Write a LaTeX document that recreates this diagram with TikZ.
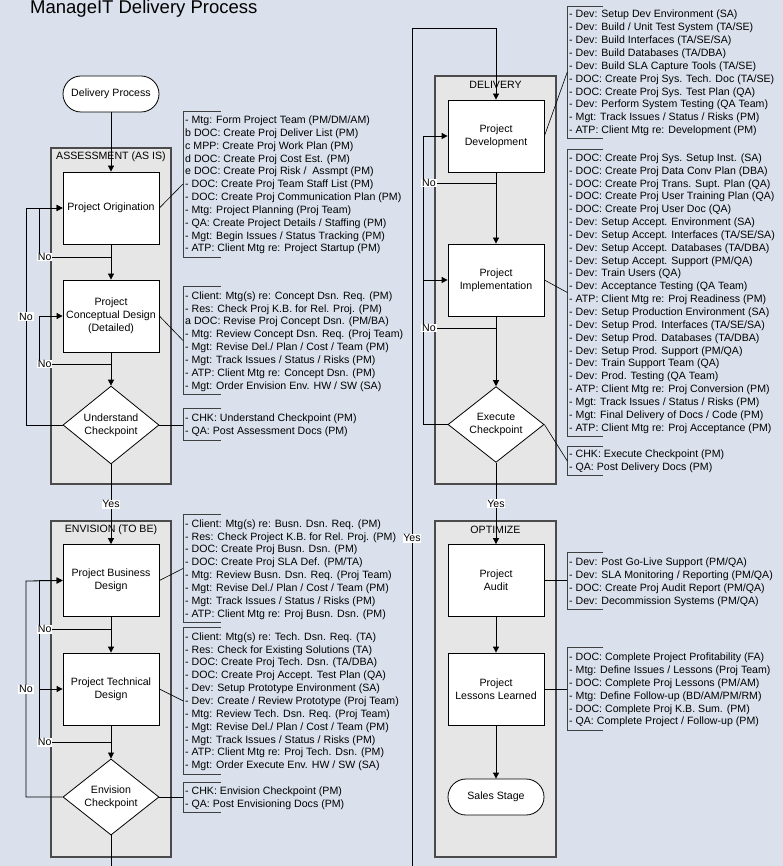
\documentclass[tikz,border=0pt]{standalone}
\usepackage{fontspec}
\setmainfont{Liberation Sans}
\usetikzlibrary{arrows.meta,shapes.geometric}
\definecolor{bgc}{RGB}{218,225,236}
\definecolor{panelfill}{RGB}{230,230,230}
\definecolor{paneldraw}{RGB}{75,75,75}
\begin{document}
\begin{tikzpicture}[x=1pt,y=-1pt,
  every node/.style={font=\fontsize{10.6}{13.2}\selectfont},
  panel/.style={draw=paneldraw, line width=1.3pt, fill=panelfill},
  procbox/.style={draw=black, line width=0.8pt, fill=white, minimum width=96pt, minimum height=72pt, inner sep=1pt, align=center},
  term/.style={draw=black, line width=0.8pt, fill=white, rounded corners=18pt, minimum width=96pt, minimum height=36pt},
  decision/.style={diamond, draw=black, fill=white, line width=0.8pt, minimum width=96pt, minimum height=72pt, inner sep=0pt, align=center},
  flow/.style={draw=black, line width=0.8pt, -{Triangle[length=6pt,width=6pt]}},
  conn/.style={draw=black, line width=0.8pt},
  lbl/.style={fill=white, inner sep=0.8pt},
  ann/.style={anchor=west, inner sep=0pt, align=left, font=\fontsize{10.6}{12.85}\selectfont},
  brk/.style={draw=black!75, line width=0.8pt},
  ptitle/.style={inner sep=0pt},
]
\fill[bgc] (0,0) rectangle (783,866);
\useasboundingbox (0,0) rectangle (783,866);

% title
\node[anchor=base west, inner sep=0pt, font=\fontsize{18.5}{22}\selectfont] (title) at (30,13.8) {ManageIT Delivery Process};

% panels
\draw[panel] (51,148) rectangle (171,484);
\draw[panel] (51,521) rectangle (171,857);
\draw[panel] (435,76) rectangle (556,484);
\draw[panel] (435,521) rectangle (556,857);
\node[ptitle] (tA) at (111,157) {ASSESSMENT (AS IS)};
\node[ptitle] (tE) at (111,529.5) {ENVISION (TO BE)};
\node[ptitle] (tD) at (495.5,84.5) {DELIVERY};
\node[ptitle] (tO) at (495.5,529.5) {OPTIMIZE};

% process nodes
\node[term] (start) at (111,94) {Delivery Process};
\node[procbox] (orig) at (111,208) {Project Origination};
\node[procbox] (concept) at (111,316) {Project\\Conceptual Design\\(Detailed)};
\node[decision] (uchk) at (111,425) {Understand\\Checkpoint};
\node[procbox] (busn) at (111,580.5) {Project Business\\Design};
\node[procbox] (tech) at (111,689) {Project Technical\\Design};
\node[decision] (echk) at (111,797) {Envision\\Checkpoint};
\node[procbox] (dev) at (496,136) {Project\\Development};
\node[procbox] (impl) at (496,280) {Project\\Implementation};
\node[decision] (xchk) at (496,424.5) {Execute\\Checkpoint};
\node[procbox] (audit) at (496,580.5) {Project\\Audit};
\node[procbox] (lessons) at (496,689) {Project\\Lessons Learned};
\node[term] (sales) at (496,797) {Sales Stage};

% main flow
\draw[flow] (start) -- (orig);
\draw[flow] (orig) -- (concept);
\draw[flow] (concept) -- (uchk);
\draw[flow] (uchk) -- node[lbl] {Yes} (busn);
\draw[flow] (busn) -- (tech);
\draw[flow] (tech) -- (echk);
\coordinate (offA) at (111,866);
\draw[conn] (echk.south) -- (offA);
\coordinate (offB) at (412,866);
\coordinate (topB) at (412,28);
\draw[flow] (offB) -- node[lbl, pos=0.3914] {Yes} (topB) -| (dev.north);
\draw[flow] (dev) -- (impl);
\draw[flow] (impl) -- (xchk);
\draw[flow] (xchk) -- node[lbl] {Yes} (audit);
\draw[flow] (audit) -- (lessons);
\draw[flow] (lessons) -- (sales);

% assessment loops
\draw[flow] (uchk.west) -- (26,425) -- node[lbl] {No} (26,208) -- (orig.west);
\coordinate (ja1) at (111,257);
\draw[flow] (ja1) -- node[lbl, pos=0.92] {No} (39,257) |- (orig.west);
\coordinate (ja2) at (111,364);
\draw[flow] (ja2) -- node[lbl, pos=0.92] {No} (39,364) |- (concept.west);

% envision loops
\draw[conn] (39,629) -- (39,689);
\draw[flow] (echk.west) -- (26,797) -- node[lbl] {No} (26,581) -- (busn.west);
\coordinate (je1) at (111,629);
\draw[flow] (je1) -- node[lbl, pos=0.92] {No} (39,629) |- (busn.west);
\coordinate (je2) at (111,742);
\draw[flow] (je2) -- node[lbl, pos=0.92] {No} (39,742) |- (tech.west);

% delivery loops
\draw[flow] (xchk.west) -- (423,424.5) |- (dev.west);
\coordinate (jd0) at (423,280);
\draw[flow] (jd0) -- (impl.west);
\coordinate (jd1) at (496,183);
\draw[conn] (jd1) -- node[lbl, pos=0.918] {No} (423,183);
\coordinate (jd2) at (496,328);
\draw[conn] (jd2) -- node[lbl, pos=0.918] {No} (423,328);

% annotation brackets (left column)
\draw[brk] (221,111) -- (183,111) -- (183,257) -- (221,257);
\coordinate (a1) at (183,184);
\draw[conn, line width=0.6pt] (orig.east) -- (a1);
\node[ann] (a1t) at (185,185) {- Mtg: Form Project Team (PM/DM/AM)\\b DOC: Create Proj Deliver List (PM)\\c MPP: Create Proj Work Plan (PM)\\d DOC: Create Proj Cost Est. (PM)\\e DOC: Create Proj Risk / \ Assmpt (PM)\\- DOC: Create Proj Team Staff List (PM)\\- DOC: Create Proj Communication Plan (PM)\\- Mtg: Project Planning (Proj Team)\\- QA: Create Project Details / Staffing (PM)\\- Mgt: Begin Issues / Status Tracking (PM)\\- ATP: Client Mtg re: Project Startup (PM)};

\draw[brk] (221,286.7) -- (183,286.7) -- (183,394.3) -- (221,394.3);
\coordinate (a2) at (183,340.5);
\draw[conn, line width=0.6pt] (concept.east) -- (a2);
\node[ann] (a2t) at (185,341.5) {- Client: Mtg(s) re: Concept Dsn. Req. (PM)\\- Res: Check Proj K.B. for Rel. Proj. (PM)\\a DOC: Revise Proj Concept Dsn. (PM/BA)\\- Mtg: Review Concept Dsn. Req. (Proj Team)\\- Mgt: Revise Del./ Plan / Cost / Team (PM)\\- Mgt: Track Issues / Status / Risks (PM)\\- ATP: Client Mtg re: Concept Dsn. (PM)\\- Mgt: Order Envision Env. HW / SW (SA)};

\draw[brk] (221,408.3) -- (183,408.3) -- (183,440) -- (221,440);
\coordinate (a3) at (183,425);
\draw[conn, line width=0.6pt] (uchk.east) -- (a3);
\node[ann] (a3t) at (185,425.2) {- CHK: Understand Checkpoint (PM)\\- QA: Post Assessment Docs (PM)};

\draw[brk] (221,514.3) -- (183,514.3) -- (183,622.7) -- (221,622.7);
\coordinate (e1) at (183,568.5);
\draw[conn, line width=0.6pt] (busn.east) -- (e1);
\node[ann] (e1t) at (185,569.5) {- Client: Mtg(s) re: Busn. Dsn. Req. (PM)\\- Res: Check Project K.B. for Rel. Proj. (PM)\\- DOC: Create Proj Busn. Dsn. (PM)\\- DOC: Create Proj SLA Def. (PM/TA)\\- Mtg: Review Busn. Dsn. Req. (Proj Team)\\- Mgt: Revise Del./ Plan / Cost / Team (PM)\\- Mgt: Track Issues / Status / Risks (PM)\\- ATP: Client Mtg re: Proj Busn. Dsn. (PM)};

\draw[brk] (221,627.3) -- (183,627.3) -- (183,774.3) -- (221,774.3);
\coordinate (e2) at (183,700.8);
\draw[conn, line width=0.6pt] (tech.east) -- (e2);
\node[ann] (e2t) at (185,701.8) {- Client: Mtg(s) re: Tech. Dsn. Req. (TA)\\- Res: Check for Existing Solutions (TA)\\- DOC: Create Proj Tech. Dsn. (TA/DBA)\\- DOC: Create Proj Accept. Test Plan (QA)\\- Dev: Setup Prototype Environment (SA)\\- Dev: Create / Review Prototype (Proj Team)\\- Mtg: Review Tech. Dsn. Req. (Proj Team)\\- Mgt: Revise Del./ Plan / Cost / Team (PM)\\- Mgt: Track Issues / Status / Risks (PM)\\- ATP: Client Mtg re: Proj Tech. Dsn. (PM)\\- Mgt: Order Execute Env. HW / SW (SA)};

\draw[brk] (221,782.7) -- (183,782.7) -- (183,812.7) -- (221,812.7);
\coordinate (e3) at (183,797);
\draw[conn, line width=0.6pt] (echk.east) -- (e3);
\node[ann] (e3t) at (185,798.2) {- CHK: Envision Checkpoint (PM)\\- QA: Post Envisioning Docs (PM)};

% annotation brackets (right column)
\draw[brk] (603.3,6) -- (567.3,6) -- (567.3,138.3) -- (603.3,138.3);
\coordinate (d1) at (567.3,72);
\draw[conn, line width=0.6pt] (dev.east) -- (d1);
\node[ann] (d1t) at (569,73) {- Dev: Setup Dev Environment (SA)\\- Dev: Build / Unit Test System (TA/SE)\\- Dev: Build Interfaces (TA/SE/SA)\\- Dev: Build Databases (TA/DBA)\\- Dev: Build SLA Capture Tools (TA/SE)\\- DOC: Create Proj Sys. Tech. Doc (TA/SE)\\- DOC: Create Proj Sys. Test Plan (QA)\\- Dev: Perform System Testing (QA Team)\\- Mgt: Track Issues / Status / Risks (PM)\\- ATP: Client Mtg re: Development (PM)};

\draw[brk] (603.3,149) -- (567.3,149) -- (567.3,436) -- (603.3,436);
\coordinate (d2) at (567.3,292.5);
\draw[conn, line width=0.6pt] (impl.east) -- (d2);
\node[ann] (d2t) at (569,293.5) {- DOC: Create Proj Sys. Setup Inst. (SA)\\- DOC: Create Proj Data Conv Plan (DBA)\\- DOC: Create Proj Trans. Supt. Plan (QA)\\- DOC: Create Proj User Training Plan (QA)\\- DOC: Create Proj User Doc (QA)\\- Dev: Setup Accept. Environment (SA)\\- Dev: Setup Accept. Interfaces (TA/SE/SA)\\- Dev: Setup Accept. Databases (TA/DBA)\\- Dev: Setup Accept. Support (PM/QA)\\- Dev: Train Users (QA)\\- Dev: Acceptance Testing (QA Team)\\- ATP: Client Mtg re: Proj Readiness (PM)\\- Dev: Setup Production Environment (SA)\\- Dev: Setup Prod. Interfaces (TA/SE/SA)\\- Dev: Setup Prod. Databases (TA/DBA)\\- Dev: Setup Prod. Support (PM/QA)\\- Dev: Train Support Team (QA)\\- Dev: Prod. Testing (QA Team)\\- ATP: Client Mtg re: Proj Conversion (PM)\\- Mgt: Track Issues / Status / Risks (PM)\\- Mgt: Final Delivery of Docs / Code (PM)\\- ATP: Client Mtg re: Proj Acceptance (PM)};

\draw[brk] (603.3,446) -- (567.3,446) -- (567.3,475.7) -- (603.3,475.7);
\coordinate (d3) at (567.3,461);
\draw[conn, line width=0.6pt] (xchk.east) -- (d3);
\node[ann] (d3t) at (569,461.5) {- CHK: Execute Checkpoint (PM)\\- QA: Post Delivery Docs (PM)};

\draw[brk] (603.3,552.7) -- (567.3,552.7) -- (567.3,609.3) -- (603.3,609.3);
\coordinate (o1) at (567.3,580.5);
\draw[conn, line width=0.6pt] (audit.east) -- (o1);
\node[ann] (o1t) at (569,582) {- Dev: Post Go-Live Support (PM/QA)\\- Dev: SLA Monitoring / Reporting (PM/QA)\\- DOC: Create Proj Audit Report (PM/QA)\\- Dev: Decommission Systems (PM/QA)};

\draw[brk] (603.3,647.7) -- (567.3,647.7) -- (567.3,730) -- (603.3,730);
\coordinate (o2) at (567.3,689);
\draw[conn, line width=0.6pt] (lessons.east) -- (o2);
\node[ann] (o2t) at (569,690) {- DOC: Complete Project Profitability (FA)\\- Mtg: Define Issues / Lessons (Proj Team)\\- DOC: Complete Proj Lessons (PM/AM)\\- Mtg: Define Follow-up (BD/AM/PM/RM)\\- DOC: Complete Proj K.B. Sum. (PM)\\- QA: Complete Project / Follow-up (PM)};
\end{tikzpicture}
\end{document}
